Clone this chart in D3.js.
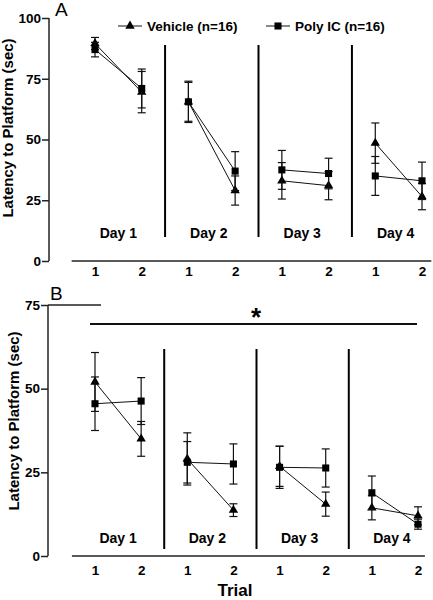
<!DOCTYPE html>
<html><head><meta charset="utf-8">
<script src="https://cdn.jsdelivr.net/npm/d3@7/dist/d3.min.js"></script>
<style>
body{margin:0;background:#fff;}
svg{display:block;font-family:"Liberation Sans",Arial,sans-serif;}
</style></head>
<body><svg id="c" width="433" height="600"></svg>
<script>
// ---- data ----
const trialLabels = ["1","2","1","2","1","2","1","2"];
const dayLabels = ["Day 1","Day 2","Day 3","Day 4"];
const seriesNames = ["Vehicle (n=16)","Poly IC (n=16)"];
// Panel A
const vehicleA = [89.5, 69.5, 65.5, 29, 33, 31, 48.5, 26.5];
const vehicleAErr = [2.5, 8.5, 8, 6, 7.5, 5.8, 8.3, 5.4];
const polyA = [87, 71, 65.5, 37, 37.5, 36, 35, 33];
const polyAErr = [3, 8, 8.5, 8, 8, 6.3, 8, 7.7];
const yTicksA = [0, 25, 50, 75, 100];
// Panel B
const vehicleB = [52, 35, 29, 13.7, 26.8, 15.5, 14.4, 12];
const vehicleBErr = [8.8, 5.2, 7.8, 1.9, 6, 3.6, 3.6, 2.7];
const polyB = [45.5, 46.3, 28, 27.5, 26.5, 26.3, 18.9, 9.5];
const polyBErr = [8, 7, 6.2, 6, 6.3, 5.7, 5, 1.5];
const yTicksB = [0, 25, 50, 75];
const sigLevel = 69.3;

const svg = d3.select("#c");
const FONT = '"Liberation Sans",Arial,sans-serif';

function panel(opt){
  const g = svg.append("g");
  const y = d3.scaleLinear().domain([0, opt.yMax]).range([opt.y0, opt.y1]);
  const x = d3.scaleLinear().domain([0, 7]).range([opt.x0, opt.x1]);
  // y axis
  const ya = g.append("g").attr("transform", `translate(${opt.axisX},0)`)
    .call(d3.axisLeft(y).tickValues(opt.ticks).tickSize(7).tickPadding(1));
  ya.select(".domain").attr("stroke","#222").attr("stroke-width",1.5).attr("d",`M0,${y(0)}V${y(opt.yMax)}`);
  ya.selectAll(".tick line").attr("stroke","#222").attr("stroke-width",1.5);
  ya.selectAll(".tick text").attr("font-size",13.5).attr("font-weight","bold").attr("font-family",FONT).attr("fill","#000");
  // x axis
  const xa = g.append("g").attr("transform", `translate(0,${y(0)})`)
    .call(d3.axisBottom(x).tickValues(d3.range(8)).tickFormat(i=>trialLabels[i]).tickSize(0).tickPadding(opt.xPad));
  xa.select(".domain").attr("stroke","#222").attr("stroke-width",1.5).attr("d",`M${x(-0.5)},0H${x(opt.xEnd)}`);
  xa.selectAll(".tick text").attr("font-size",13.5).attr("font-weight","bold").attr("font-family",FONT).attr("fill","#000");
  // dividers
  [1.5,3.5,5.5].forEach(v=>{
    g.append("line").attr("x1",x(v)).attr("x2",x(v)).attr("y1",opt.divTop).attr("y2",opt.divBot)
      .attr("stroke","#000").attr("stroke-width",2);
  });
  // day labels
  dayLabels.forEach((d,i)=>{
    g.append("text").attr("x",x(2*i+0.5)-(i?3:0)).attr("y",opt.dayY).attr("text-anchor","middle")
      .attr("font-size",14).attr("font-weight","bold").text(d);
  });
  // series
  const series = [
    {v:opt.veh, e:opt.vehErr, sym:d3.symbolTriangle, size:38},
    {v:opt.poly, e:opt.polyErr, sym:d3.symbolSquare, size:50}
  ];
  series.forEach(s=>{
    for(let d=0; d<4; d++){
      const i=2*d;
      g.append("line").attr("x1",x(i)).attr("y1",y(s.v[i])).attr("x2",x(i+1)).attr("y2",y(s.v[i+1]))
        .attr("stroke","#111").attr("stroke-width",1);
    }
    s.v.forEach((v,i)=>{
      const cx=x(i), lo=y(v-s.e[i]), hi=y(v+s.e[i]);
      g.append("line").attr("x1",cx).attr("x2",cx).attr("y1",lo).attr("y2",hi).attr("stroke","#111").attr("stroke-width",1.2);
      [lo,hi].forEach(yy=>g.append("line").attr("x1",cx-4).attr("x2",cx+4).attr("y1",yy).attr("y2",yy).attr("stroke","#111").attr("stroke-width",1.2));
    });
    s.v.forEach((v,i)=>{
      g.append("path").attr("d",d3.symbol().type(s.sym).size(s.size)()).attr("transform",`translate(${x(i)},${y(v)})`).attr("fill","#000");
    });
  });
  // panel letter
  g.append("text").attr("x",opt.letterX).attr("y",opt.letterY).attr("font-size",19).text(opt.letter);
  // y title
  g.append("text").attr("transform",`translate(${opt.titleX},${opt.titleY}) rotate(-90)`).attr("text-anchor","middle")
    .attr("font-size",15).attr("font-weight","bold").text("Latency to Platform (sec)");
  return {x,y,g};
}

const A = panel({yMax:100, y0:261, y1:18, x0:95, x1:422, axisX:49, ticks:yTicksA, xPad:5, xEnd:7.2,
  divTop:45, divBot:237, dayY:238, veh:vehicleA, vehErr:vehicleAErr, poly:polyA, polyErr:polyAErr,
  letter:"A", letterX:55, letterY:16, titleX:13, titleY:128});

const B = panel({yMax:75, y0:556, y1:305, x0:95, x1:418, axisX:48, ticks:yTicksB, xPad:9, xEnd:7.15,
  divTop:349, divBot:549, dayY:543, veh:vehicleB, vehErr:vehicleBErr, poly:polyB, polyErr:polyBErr,
  letter:"B", letterX:50, letterY:300, titleX:19, titleY:421});

// line at 75 in B
B.g.append("line").attr("x1",48).attr("x2",101).attr("y1",B.y(75)).attr("y2",B.y(75)).attr("stroke","#222").attr("stroke-width",1.5);
// significance
B.g.append("line").attr("x1",90).attr("x2",417).attr("y1",B.y(sigLevel)).attr("y2",B.y(sigLevel)).attr("stroke","#111").attr("stroke-width",2);
B.g.append("text").attr("x",256).attr("y",B.y(sigLevel)+2).attr("text-anchor","middle").attr("font-size",26).attr("font-weight","bold").text("*");
// Trial
svg.append("text").attr("x",235).attr("y",596).attr("text-anchor","middle").attr("font-size",17).attr("font-weight","bold").text("Trial");

// legend
const leg = [
  {name:seriesNames[0], x:118, sym:d3.symbolTriangle, size:38},
  {name:seriesNames[1], x:266, sym:d3.symbolSquare, size:50}
];
leg.forEach(l=>{
  svg.append("line").attr("x1",l.x).attr("x2",l.x+24).attr("y1",26).attr("y2",26).attr("stroke","#111").attr("stroke-width",1);
  svg.append("path").attr("d",d3.symbol().type(l.sym).size(l.size)()).attr("transform",`translate(${l.x+12},26)`).attr("fill","#000");
  svg.append("text").attr("x",l.x+29).attr("y",30.5).attr("font-size",13.5).attr("font-weight","bold").text(l.name);
});
</script></body></html>
